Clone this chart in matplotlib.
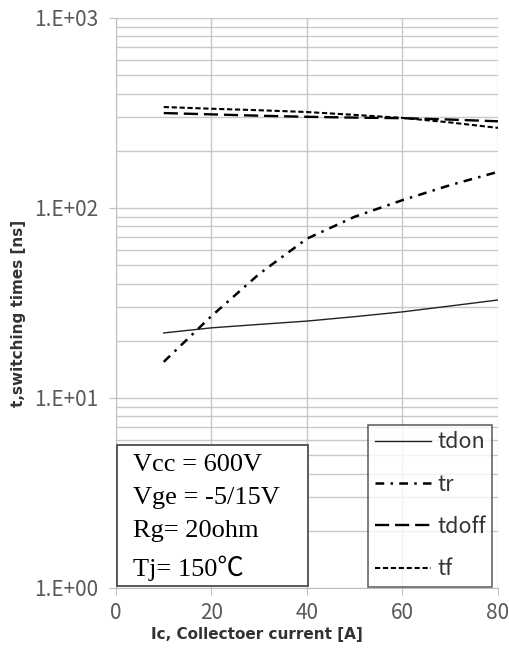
import matplotlib.pyplot as plt
import numpy as np
from matplotlib.ticker import FixedLocator, LogLocator, NullFormatter

# switching times vs collector current, Tj = 150C
ic = [10, 20, 30, 40, 50, 60, 70, 80]
tdon = [22.0, 23.4, 24.4, 25.4, 26.8, 28.4, 30.5, 32.8]
tr = [15.5, 27.0, 45.0, 69.0, 90.0, 110.0, 132.0, 155.0]
tdoff = [316, 311, 306, 302, 299, 297, 292, 286]
tf = [340, 333, 327, 320, 309, 298, 282, 264]

names = ['tdon', 'tr', 'tdoff', 'tf']
conds = 'Vcc = 600V\nVge = -5/15V\nRg= 20ohm\nTj= 150\u2103'
ylabels = ['1.E+00', '1.E+01', '1.E+02', '1.E+03']

fig = plt.figure(figsize=(5.1, 6.52), dpi=100)
ax = fig.add_axes([116 / 510, 1 - 588 / 652, 382 / 510, 570 / 652])

ax.plot(ic, tdon, color='#222222', lw=1.0, label=names[0])
ax.plot(ic, tr, color='black', lw=1.8, dashes=(3.5, 2.5, 1, 2.5), label=names[1])
ax.plot(ic, tdoff, color='black', lw=1.7, dashes=(6, 2.5), label=names[2])
ax.plot(ic, tf, color='black', lw=1.5, dashes=(2.5, 1.3), label=names[3])

ax.set_yscale('log')
ax.set_ylim(1, 1000)
ax.set_xlim(0, 80)
ax.xaxis.set_major_locator(FixedLocator([0, 20, 40, 60, 80]))
ax.yaxis.set_major_locator(FixedLocator([1, 10, 100, 1000]))
ax.yaxis.set_minor_locator(LogLocator(base=10, subs=np.arange(2, 10)))
ax.yaxis.set_minor_formatter(NullFormatter())
ax.set_yticklabels(ylabels)

ax.grid(True, which='both', axis='y', color='#c8c8c8', lw=1.0)
ax.grid(True, which='major', axis='x', color='#c8c8c8', lw=1.0)
ax.set_axisbelow(True)
for s in ['top', 'right']:
    ax.spines[s].set_visible(False)
for s in ['left', 'bottom']:
    ax.spines[s].set_color('#bfbfbf')
ax.tick_params(which='major', length=5, color='#bfbfbf', labelsize=15,
               labelcolor='#595959')
ax.tick_params(axis='y', pad=8)
ax.tick_params(axis='x', pad=5)
ax.tick_params(which='minor', length=0)
for lab in ax.get_xticklabels() + ax.get_yticklabels():
    lab.set_family(['Noto Sans CJK SC', 'DejaVu Sans'])

ax.set_xlabel('Ic, Collectoer current [A]', fontsize=11, fontweight='bold',
              color='#333333')
ax.xaxis.set_label_coords(0.369, -0.068)
ax.set_ylabel('t,switching times [ns]', fontsize=11, fontweight='bold',
              color='#333333')
ax.yaxis.set_label_coords(-0.235, 0.482)

# operating conditions box
ax.text(0.045, 0.235, conds, transform=ax.transAxes,
        family=['Liberation Serif', 'Noto Sans CJK SC'],
        fontsize=19, linespacing=1.65, va='top', ha='left', zorder=5)
ax.add_patch(plt.Rectangle((0.003, 0.003), 0.5, 0.248, transform=ax.transAxes,
                           fill=True, fc='white', ec='#404040', lw=1.2, zorder=4))

leg = ax.legend(loc='lower right', bbox_to_anchor=(0.987, 0.0),
                frameon=True, fancybox=False, handlelength=2.6,
                labelspacing=0.95, borderpad=0.3, handletextpad=0.3,
                borderaxespad=0.05,
                prop={'family': 'Noto Sans CJK SC', 'size': 15.5})
leg.get_frame().set_edgecolor('#404040')
leg.get_frame().set_linewidth(1.2)
for t in leg.get_texts():
    t.set_color('#333333')

fig.savefig('out.png', dpi=100)
